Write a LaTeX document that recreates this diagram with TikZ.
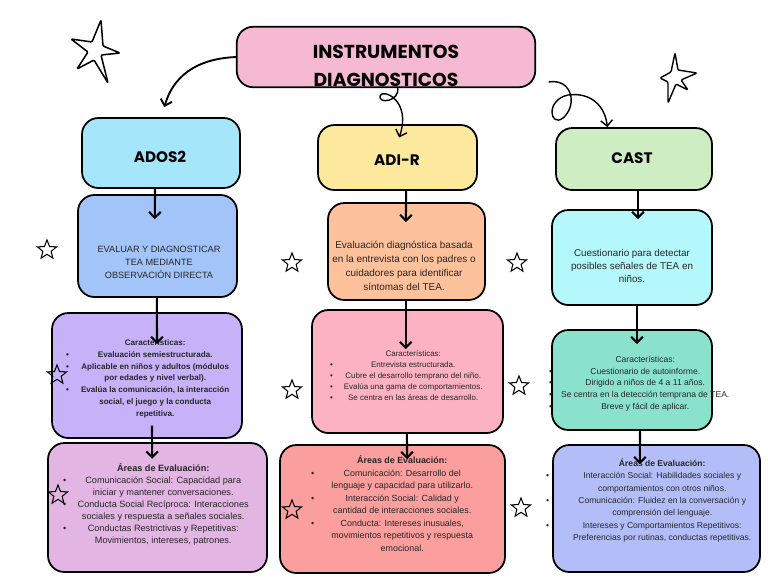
\documentclass[tikz,border=0pt]{standalone}
\usepackage{fontspec}
\setmainfont{Liberation Sans}
\newfontfamily\titlefont{Poppins}
\usepackage{array}
\usetikzlibrary{shapes.geometric, arrows.meta, positioning, calc}
\definecolor{tea-title}{HTML}{F6B9D4}
\definecolor{ados-head}{HTML}{A6E6FB}
\definecolor{adir-head}{HTML}{FCE99E}
\definecolor{cast-head}{HTML}{CFEDC3}
\definecolor{ados-obj}{HTML}{A2C4F9}
\definecolor{adir-obj}{HTML}{FDC19C}
\definecolor{cast-obj}{HTML}{B4F8FB}
\definecolor{ados-car}{HTML}{C7B2F9}
\definecolor{adir-car}{HTML}{FDB2C3}
\definecolor{cast-car}{HTML}{8AE2CD}
\definecolor{ados-area}{HTML}{E3B5E3}
\definecolor{adir-area}{HTML}{FB9E9E}
\definecolor{cast-area}{HTML}{B3BEF9}
\newcommand{\blist}[2]{\begin{tabular}{@{}p{0.12cm}@{}>{\centering\arraybackslash}p{#1}@{}}#2\end{tabular}}

\begin{document}
\begin{tikzpicture}[x=0.03cm, y=-0.03cm,
  card/.style={draw, line width=1.5pt, rounded corners=14pt},
  head/.style={font=\titlefont\bfseries\fontsize{13}{13}\selectfont},
  txt/.style={align=center, text=black!85, inner sep=0pt},
  arr/.style={-{Straight Barb[length=5pt,width=10pt]}, line width=1.8pt},
  curl/.style={-{Straight Barb[length=5pt,width=10pt]}, line width=1.2pt},
  spark/.style={star, star points=5, star point ratio=2.3, draw, line width=0.9pt, inner sep=0pt, minimum size=0.6cm},
]
  \useasboundingbox (0,0) rectangle (768,576);

  % Title
  \node[fill=tea-title, rounded corners=14pt, minimum width=8.94cm, minimum height=1.8cm] (title) at (386,57) {};
  \node[head, font=\titlefont\bfseries\fontsize{16}{24}\selectfont, align=center] (ttl) at (386,66) {INSTRUMENTOS\\DIAGNOSTICOS};
  \draw[card] (title.south west) rectangle (title.north east);

  % Headers
  \node[card, fill=ados-head, minimum width=4.74cm, minimum height=2.1cm] (ados) at (161,153) {};
  \node[head] at (160,157) {ADOS2};
  \node[card, fill=adir-head, minimum width=4.77cm, minimum height=1.95cm] (adir) at (397.5,157.5) {};
  \node[head] at (397,160) {ADI-R};
  \node[card, fill=cast-head, minimum width=4.68cm, minimum height=1.86cm] (cast) at (634,159) {};
  \node[head] at (632,158) {CAST};

  % Objective
  \node[card, fill=ados-obj, minimum width=4.77cm, minimum height=3.06cm] (adosobj) at (157.5,246) {};
  \node[txt, font=\fontsize{7.8}{11}\selectfont] at (159,262) {EVALUAR Y DIAGNOSTICAR\\TEA MEDIANTE\\OBSERVACIÓN DIRECTA};
  \node[card, fill=adir-obj, minimum width=4.71cm, minimum height=2.91cm] (adirobj) at (406.5,251.5) {};
  \node[txt, font=\fontsize{8.5}{12}\selectfont] at (404,266) {Evaluación diagnóstica basada\\en la entrevista con los padres o\\cuidadores para identificar\\síntomas del TEA.};
  \node[card, fill=cast-obj, minimum width=4.8cm, minimum height=2.85cm] (castobj) at (632,257.5) {};
  \node[txt, font=\fontsize{8.4}{11}\selectfont] at (632,266) {Cuestionario para detectar\\posibles señales de TEA en\\niños.};

  % Characteristics
  \node[card, fill=ados-car, minimum width=5.7cm, minimum height=3.75cm] (adoscar) at (147,375.5) {};
  \node[txt, anchor=west, font=\bfseries\fontsize{6.9}{10}\selectfont] at (66,378.5) {\blist{5.1cm}{
    & Características:\\
    \textbullet & Evaluación semiestructurada.\\
    \textbullet & Aplicable en niños y adultos (módulos\\
    & por edades y nivel verbal).\\
    \textbullet & Evalúa la comunicación, la interacción\\
    & social, el juego y la conducta\\
    & repetitiva.}};
  \node[card, fill=adir-car, minimum width=5.73cm, minimum height=3.69cm] (adircar) at (407.5,371.5) {};
  \node[txt, anchor=west, font=\fontsize{6.8}{9.4}\selectfont] at (330,376) {\blist{4.74cm}{
    & Características:\\
    \textbullet & Entrevista estructurada.\\
    \textbullet & Cubre el desarrollo temprano del niño.\\
    \textbullet & Evalúa una gama de comportamientos.\\
    \textbullet & Se centra en las áreas de desarrollo.}};
  \node[card, fill=cast-car, minimum width=4.8cm, minimum height=3cm] (castcar) at (632,380) {};
  \node[txt, anchor=west, font=\fontsize{7.3}{10}\selectfont] at (549,383.5) {\blist{5.52cm}{
    & Características:\\
    \textbullet & Cuestionario de autoinforme.\\
    \textbullet & Dirigido a niños de 4 a 11 años.\\
    \textbullet & Se centra en la detección temprana de TEA.\\
    \textbullet & Breve y fácil de aplicar.}};

  % Areas
  \node[card, fill=ados-area, minimum width=6.57cm, minimum height=3.87cm] (adosarea) at (157.5,507.5) {};
  \node[txt, anchor=west, font=\fontsize{7.8}{10.2}\selectfont] at (63,505) {\blist{5.76cm}{
    & \textbf{Áreas de Evaluación:}\\
    \textbullet & Comunicación Social: Capacidad para\\
    & iniciar y mantener conversaciones.\\
    \textbullet & Conducta Social Recíproca: Interacciones\\
    & sociales y respuesta a señales sociales.\\
    \textbullet & Conductas Restrictivas y Repetitivas:\\
    & Movimientos, intereses, patrones.}};
  \node[card, fill=adir-area, minimum width=6.75cm, minimum height=3.84cm] (adirarea) at (392.5,509) {};
  \node[txt, anchor=west, font=\fontsize{7.6}{10.7}\selectfont] at (311,505) {\blist{5.22cm}{
    & \textbf{Áreas de Evaluación:}\\
    \textbullet & Comunicación: Desarrollo del\\
    & lenguaje y capacidad para utilizarlo.\\
    \textbullet & Interacción Social: Calidad y\\
    & cantidad de interacciones sociales.\\
    \textbullet & Conducta: Intereses inusuales,\\
    & movimientos repetitivos y respuesta\\
    & emocional.}};
  \node[card, fill=cast-area, minimum width=6.21cm, minimum height=3.81cm] (castarea) at (656.5,508.5) {};
  \node[txt, anchor=west, font=\fontsize{7.3}{10.5}\selectfont] at (546,501) {\blist{6.72cm}{
    & \textbf{Áreas de Evaluación:}\\
    \textbullet & Interacción Social: Habilidades sociales y\\
    & comportamientos con otros niños.\\
    \textbullet & Comunicación: Fluidez en la conversación y\\
    & comprensión del lenguaje.\\
    \textbullet & Intereses y Comportamientos Repetitivos:\\
    & Preferencias por rutinas, conductas repetitivas.}};

  % Arrows down
  \draw[arr] ([xshift=-0.18cm]ados.south) -- ([xshift=-0.08cm,yshift=-0.75cm]adosobj.north);
  \draw[arr] ([xshift=-0.02cm]adosobj.south) -- ([xshift=0.3cm,yshift=-0.96cm]adoscar.north);
  \draw[arr] ([xshift=0.15cm,yshift=0.4cm]adoscar.south) -- ([xshift=-0.16cm,yshift=-0.5cm]adosarea.north);
  \draw[arr] ([xshift=0.26cm]adir.south) -- ([xshift=-0.02cm,yshift=-0.6cm]adirobj.north);
  \draw[arr] ([xshift=-0.02cm]adirobj.south) -- ([xshift=-0.05cm,yshift=-1.2cm]adircar.north);
  \draw[arr] ([xshift=-0.02cm]adircar.south) -- ([xshift=0.44cm,yshift=-0.45cm]adirarea.north);
  \draw[arr] ([xshift=0.12cm]cast.south) -- ([xshift=0.18cm,yshift=-0.3cm]castobj.north);
  \draw[arr] ([xshift=0.15cm]castobj.south) -- ([xshift=0.15cm,yshift=-0.45cm]castcar.north);
  \draw[arr] ([xshift=0.24cm]castcar.south) -- ([xshift=-0.5cm,yshift=-0.6cm]castarea.north);

  % Curls from title
  \draw[curl, line width=1.6pt] (title.west) .. controls (205,58) and (175,70) .. ([xshift=0.1cm,yshift=0.3cm]ados.north);
  \draw[curl] ([xshift=0.35cm]title.south) .. controls (400,102) and (378,104) .. (380,96) .. controls (382,88) and (412,100) .. ([xshift=0.05cm,yshift=-0.4cm]adir.north);
  \draw[curl] ([xshift=0.4cm,yshift=-0.75cm]title.east) .. controls (572,78) and (578,105) .. (563,118) .. controls (550,128) and (545,100) .. (568,95) .. controls (590,92) and (605,105) .. ([xshift=-0.8cm]cast.north);

  % Stars
  \draw[line width=1.3pt, rounded corners=1pt] (101,20) -- (103,46) -- (120,53) -- (101,55) -- (108,83) -- (94,60) -- (77,69) -- (88,52) -- (71,39) -- (92,42) -- cycle;
  \draw[line width=1.2pt, rounded corners=1pt] (675,53) -- (678,70) -- (697,73) -- (681,80) -- (688,90) -- (676,84) -- (668,103) -- (668,82) -- (660,78) -- (671,72) -- cycle;
  \foreach \sx/\sy [count=\i] in {47/250, 292/263, 517/263, 57/375, 292/390, 519/386, 58/495, 292/510, 521/508} {
    \node[spark] (s\i) at (\sx,\sy) {};
  }
\end{tikzpicture}
\end{document}
